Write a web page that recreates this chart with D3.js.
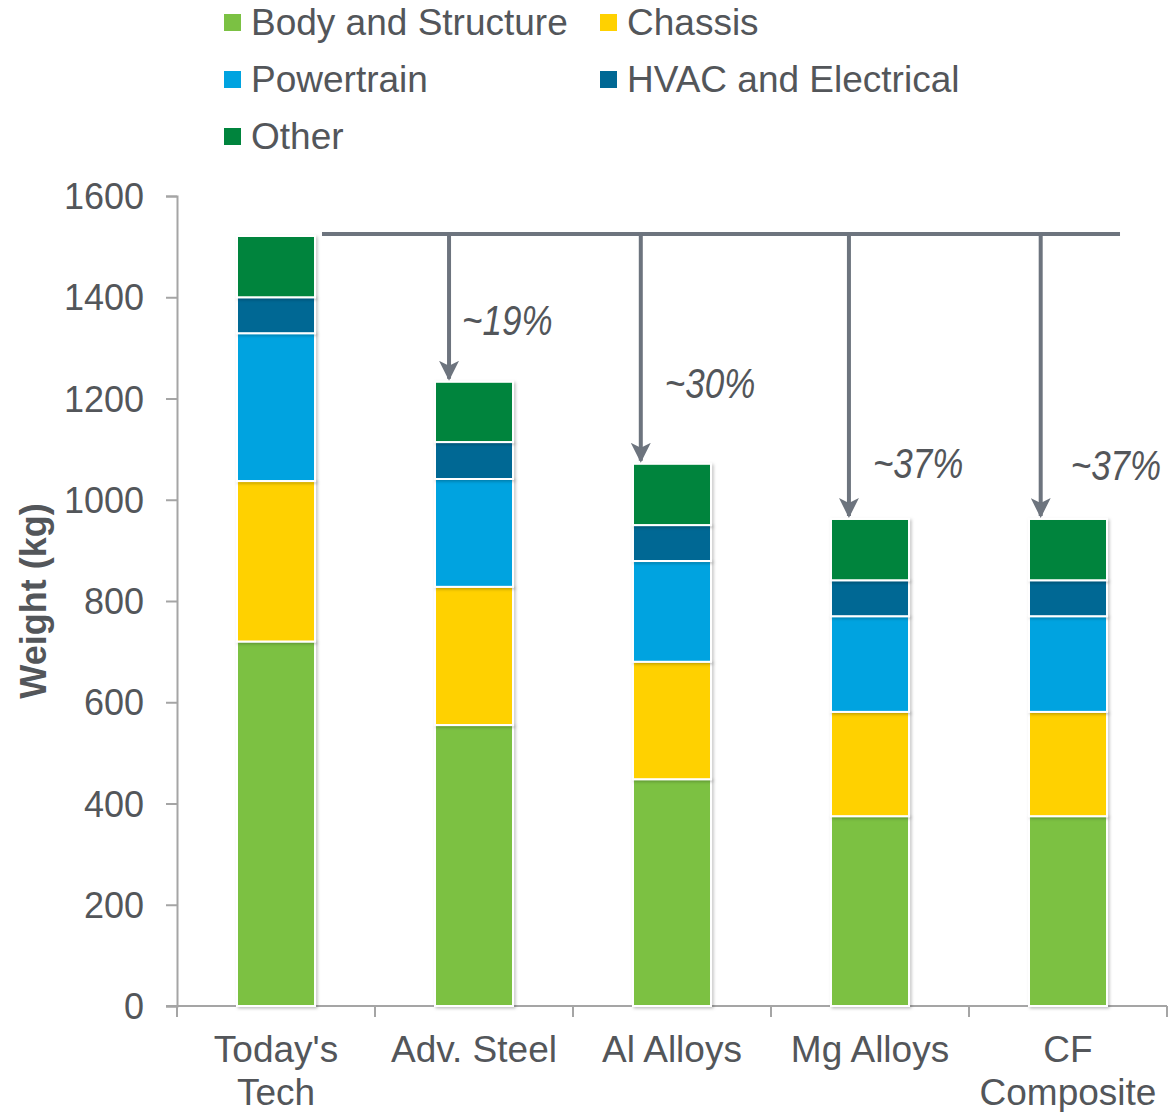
<!DOCTYPE html>
<html>
<head>
<meta charset="utf-8">
<script src="https://cdn.jsdelivr.net/npm/d3@7"></script>
<style>
body{margin:0;background:#fff;}
svg text{font-family:"Liberation Sans",Arial,sans-serif;fill:#53565A;}
</style>
</head>
<body>
<svg id="chart" width="1171" height="1112"></svg>
<script>
var svgWidth=1171;
var svgHeight=1112;

var categories=["Today's Tech","Adv. Steel","Al Alloys","Mg Alloys","CF Composite"];
var catLabels=[["Today's","Tech"],["Adv. Steel"],["Al Alloys"],["Mg Alloys"],["CF","Composite"]];
var seriesNames=["Body and Structure","Chassis","Powertrain","HVAC and Electrical","Other"];
var seriesColors=["#7BC143","#FFD100","#00A3E0","#006894","#00843D"];
var body=[720,555,448,375,375];
var chassis=[317,273,232,206,206];
var powertrain=[292,213,199,189,189];
var hvac=[71,73,71,71,71];
var other=[121,119,121,121,121];
var yTicks=[0,200,400,600,800,1000,1200,1400,1600];
var reductions=["~19%","~30%","~37%","~37%"];

var svg=d3.select("#chart");
var gray="#6D747E";

var x=d3.scaleBand()
    .domain(categories)
    .range([177,1167])
    .paddingInner(0.606)
    .paddingOuter(0.303);
var y=d3.scaleLinear()
    .domain([0,1600])
    .range([1006,196]);

var table=categories.map(function(c,i){
    return {cat:c,s0:body[i],s1:chassis[i],s2:powertrain[i],s3:hvac[i],s4:other[i]};
});
var stack=d3.stack().keys(["s0","s1","s2","s3","s4"])(table);

var defs=svg.append("defs");
var f=defs.append("filter").attr("id","shadow").attr("x","-20%").attr("y","-20%").attr("width","140%").attr("height","140%");
f.append("feDropShadow").attr("dx",1.5).attr("dy",1.5).attr("stdDeviation",1.5).attr("flood-color","#000").attr("flood-opacity",0.25);
defs.append("marker")
    .attr("id","arrow")
    .attr("viewBox","0 0 10 10")
    .attr("refX",9).attr("refY",5)
    .attr("markerWidth",5).attr("markerHeight",5)
    .attr("markerUnits","strokeWidth")
    .attr("orient","auto")
    .append("path")
    .attr("d","M0,0 L10,5 L0,10 L2.5,5 z")
    .attr("fill",gray);

// 세로 축
var yAxis=svg.append("g")
    .attr("transform","translate(177,0)")
    .call(d3.axisLeft(y).tickValues(yTicks).tickFormat(d3.format("d")).tickSize(11).tickPadding(22).tickSizeOuter(11));
yAxis.selectAll("text").style("font-size","36px").attr("dy","0.35em");
yAxis.selectAll("path,line").attr("stroke","#A5A5A5").attr("stroke-width",2);

// 가로 축
var xAxis=svg.append("g")
    .attr("transform","translate(0,1006)");
xAxis.append("line").attr("x1",166).attr("x2",1167).attr("stroke","#A5A5A5").attr("stroke-width",2);
xAxis.selectAll(".tk")
    .data(d3.range(categories.length+1))
    .enter()
    .append("line")
    .attr("x1",function(d){return 177+d*x.step();})
    .attr("x2",function(d){return 177+d*x.step();})
    .attr("y1",0).attr("y2",11)
    .attr("stroke","#A5A5A5").attr("stroke-width",2);
xAxis.selectAll(".lbl")
    .data(categories)
    .enter()
    .append("text")
    .attr("text-anchor","middle")
    .attr("x",function(d){return x(d)+x.bandwidth()/2;})
    .attr("y",56)
    .style("font-size","37px")
    .each(function(d,i){
        var t=d3.select(this);
        catLabels[i].forEach(function(l,j){
            t.append("tspan").attr("x",x(d)+x.bandwidth()/2).attr("dy",j==0?0:43).text(l);
        });
    });

svg.append("text")
    .attr("transform","translate(46,601) rotate(-90)")
    .attr("text-anchor","middle")
    .style("font-size","36px")
    .style("font-weight","bold")
    .text("Weight (kg)");

// 막대
svg.append("g").selectAll("g")
    .data(stack)
    .enter()
    .append("g")
    .attr("fill",function(d,i){return seriesColors[i];})
    .selectAll("rect")
    .data(function(d){return d;})
    .enter()
    .append("rect")
    .attr("x",function(d){return x(d.data.cat);})
    .attr("width",x.bandwidth())
    .attr("y",function(d){return y(d[1]);})
    .attr("height",function(d){return y(d[0])-y(d[1]);})
    .attr("stroke","#fff")
    .attr("stroke-width",2)
    .attr("filter","url(#shadow)");

// 감량 표시
var totals=stack[4].map(function(d){return d[1];});
var lineY=y(totals[0])-2;
var arrowPos=[0.18,0.10,0.23,0.15];
var labelDx=[13,24,24,30];
var labelVal=[1325,1201,1043,1039];
svg.append("line")
    .attr("x1",x(categories[0])+x.bandwidth()+7)
    .attr("x2",x(categories[4])+x.bandwidth()+13)
    .attr("y1",lineY).attr("y2",lineY)
    .attr("stroke",gray).attr("stroke-width",4);
reductions.forEach(function(r,i){
    var c=categories[i+1];
    var ax=x(c)+x.bandwidth()*arrowPos[i];
    svg.append("line")
        .attr("x1",ax).attr("x2",ax)
        .attr("y1",lineY).attr("y2",y(totals[i+1])-3)
        .attr("stroke",gray).attr("stroke-width",4)
        .attr("marker-end","url(#arrow)");
    svg.append("text")
        .attr("transform","translate("+(ax+labelDx[i])+","+y(labelVal[i])+") scale(1,1.2)")
        .style("font-size","35px")
        .style("font-style","italic")
        .text(r);
});

// 범례
var legendPos=[[224,35],[600,35],[224,92],[600,92],[224,149]];
var legend=svg.append("g").selectAll("g")
    .data(seriesNames)
    .enter()
    .append("g")
    .attr("transform",function(d,i){return "translate("+legendPos[i][0]+","+legendPos[i][1]+")";});
legend.append("rect")
    .attr("x",0).attr("y",-21)
    .attr("width",17).attr("height",17)
    .attr("fill",function(d,i){return seriesColors[i];});
legend.append("text")
    .attr("x",27)
    .style("font-size","37px")
    .text(function(d){return d;});
</script>
</body>
</html>
